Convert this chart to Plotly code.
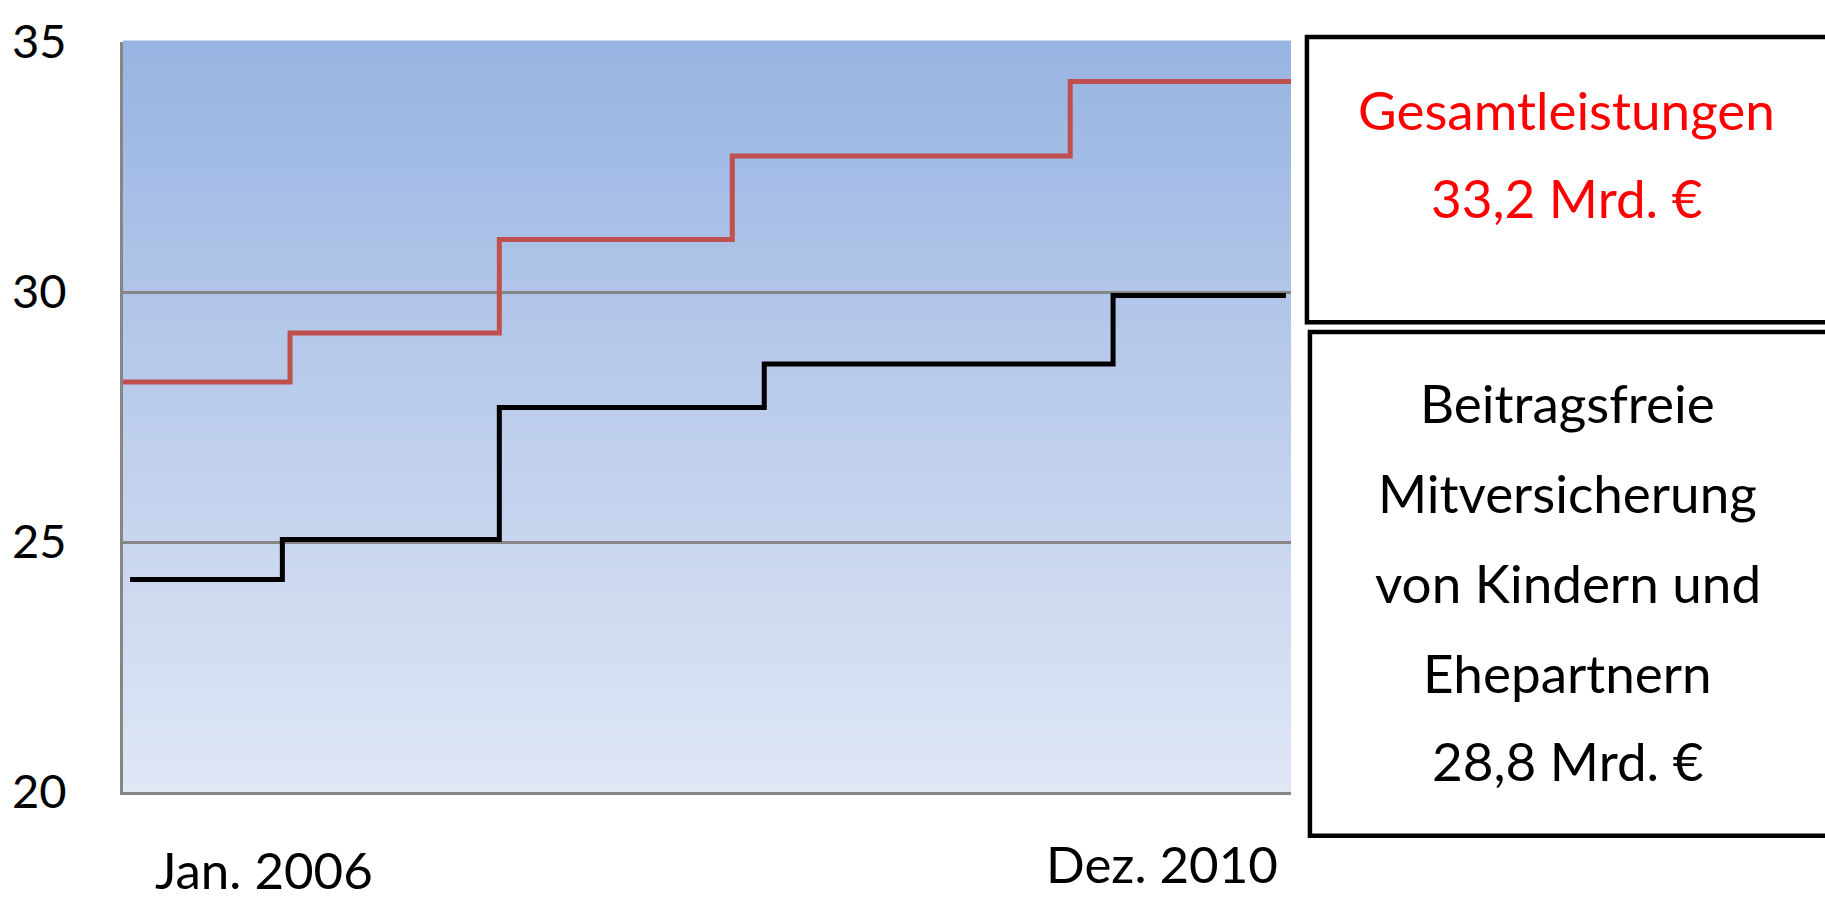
import plotly.graph_objects as go

# ---- data ----
gesamt_dates = ["2006-01-01", "2006-09-19", "2007-08-12", "2008-08-10", "2010-01-20", "2010-12-31"]
gesamt_vals = [28.20, 29.18, 31.05, 32.72, 34.21, 34.21]

mitvers_dates = ["2006-01-12", "2006-09-07", "2007-08-12", "2008-09-29", "2010-03-28", "2010-12-23"]
mitvers_vals = [24.25, 25.05, 27.69, 28.56, 29.93, 29.93]

y_ticks = [20, 25, 30, 35]
x_labels = ["Jan. 2006", "Dez. 2010"]
box1_lines = ["Gesamtleistungen", "33,2 Mrd. €"]
box2_lines = ["Beitragsfreie", "Mitversicherung", "von Kindern und", "Ehepartnern", "28,8 Mrd. €"]

FONT = "Lato"
W, H = 1825, 902
L, R, T, B = 118, 1291, 37, 792
pw, ph = R - L, B - T


def px_x(x):
    return (x - L) / pw


def px_y(y):
    return (B - y) / ph


fig = go.Figure()
fig.add_trace(go.Scatter(x=gesamt_dates, y=gesamt_vals, mode="lines", line_shape="hv",
                         line=dict(color="#C0504D", width=5), showlegend=False, hoverinfo="skip"))
fig.add_trace(go.Scatter(x=mitvers_dates, y=mitvers_vals, mode="lines", line_shape="hv",
                         line=dict(color="#000000", width=5), showlegend=False, hoverinfo="skip"))

shapes = []
# vertical gradient background
top_c = (152, 180, 226)
bot_c = (224, 231, 245)
n = 120
for i in range(n):
    t = i / (n - 1)
    c = tuple(int(round(bot_c[k] + (top_c[k] - bot_c[k]) * t)) for k in range(3))
    shapes.append(dict(type="rect", xref="paper", yref="paper", x0=0, x1=1,
                       y0=i / n, y1=(i + 1) / n + 0.002, line=dict(width=0),
                       fillcolor="rgb(%d,%d,%d)" % c, layer="below"))

# boxes (right edges run off the canvas, as in the reference)
shapes.append(dict(type="rect", xref="paper", yref="paper",
                   x0=px_x(1307), x1=px_x(1900), y0=px_y(319), y1=px_y(32),
                   line=dict(color="black", width=4.5), fillcolor="white", layer="above"))
shapes.append(dict(type="rect", xref="paper", yref="paper",
                   x0=px_x(1310), x1=px_x(1900), y0=px_y(836), y1=px_y(329),
                   line=dict(color="black", width=4.5), fillcolor="white", layer="above"))

annotations = []
for txt, y in zip(box1_lines, [105, 194]):
    annotations.append(dict(text=txt, xref="paper", yref="paper", x=px_x(1568), y=px_y(y),
                            showarrow=False, xanchor="center", yanchor="middle",
                            font=dict(family=FONT, size=53, color="#FF0000")))
for txt, y in zip(box2_lines, [400, 491, 581, 672, 760]):
    annotations.append(dict(text=txt, xref="paper", yref="paper", x=px_x(1569), y=px_y(y),
                            showarrow=False, xanchor="center", yanchor="middle",
                            font=dict(family=FONT, size=53, color="#000000")))
for txt, x, y in zip(x_labels, [260, 1161], [870, 864]):
    annotations.append(dict(text=txt, xref="paper", yref="paper", x=px_x(x), y=px_y(y),
                            showarrow=False, xanchor="center", yanchor="middle",
                            font=dict(family=FONT, size=51, color="#000000")))

fig.update_layout(
    width=W, height=H,
    margin=dict(l=L, r=W - R, t=T, b=H - B, pad=0),
    paper_bgcolor="white", plot_bgcolor="rgba(0,0,0,0)",
    shapes=shapes, annotations=annotations, showlegend=False,
)
fig.update_xaxes(range=["2006-01-01", "2010-12-31"], showgrid=False, showticklabels=False,
                 ticks="", showline=True, linecolor="#868686", linewidth=3, zeroline=False)
fig.update_yaxes(range=[20, 35], tickvals=y_ticks, ticktext=[str(v) for v in y_ticks],
                 showgrid=True, gridcolor="#868686", gridwidth=2.5, zeroline=False,
                 showline=True, linecolor="#868686", linewidth=3, ticks="",
                 ticklabelstandoff=44, tickfont=dict(family=FONT, size=47, color="#000000"))

fig.write_html("out.html", config={"displayModeBar": False},
               post_script="document.body.style.margin='0';document.body.style.overflow='hidden';")
